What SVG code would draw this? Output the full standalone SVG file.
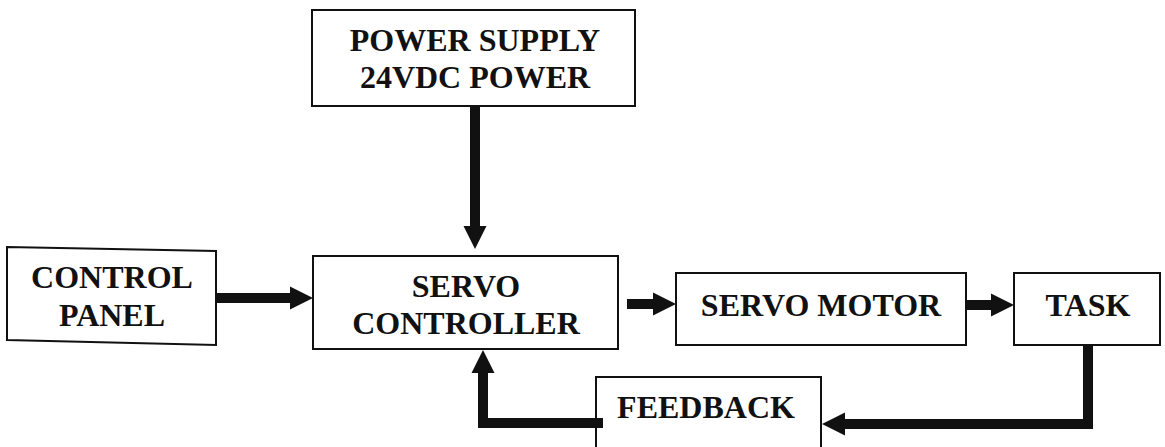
<svg xmlns="http://www.w3.org/2000/svg" width="1165" height="447" viewBox="0 0 1165 447">
<defs>
<style>
.box{fill:#fff;stroke:#111;stroke-width:2}
.lbl{font-family:"Liberation Serif","Times New Roman",serif;font-weight:bold;font-size:32px;fill:#111;text-anchor:middle}
.con{fill:none;stroke:#111;stroke-width:10;stroke-linejoin:miter}
</style>
<marker id="ah" markerUnits="userSpaceOnUse" markerWidth="24" markerHeight="24" refX="0" refY="11.5" orient="auto" overflow="visible">
<path d="M0,0 L23,11.5 L0,23 Z" fill="#111"/>
</marker>
</defs>
<rect width="1165" height="447" fill="#fff"/>
<g id="power-supply">
<rect class="box" x="312" y="10" width="323" height="96"/>
<text class="lbl" x="475" y="51">POWER SUPPLY</text>
<text class="lbl" x="475" y="88">24VDC POWER</text>
</g>
<g id="control-panel">
<polygon class="box" points="7,247 216,251 216,345 7,340"/>
<text class="lbl" x="112" y="288">CONTROL</text>
<text class="lbl" x="112" y="326">PANEL</text>
</g>
<g id="servo-controller">
<rect class="box" x="313" y="256" width="305" height="93"/>
<text class="lbl" x="466" y="297">SERVO</text>
<text class="lbl" x="466" y="334">CONTROLLER</text>
</g>
<g id="servo-motor">
<rect class="box" x="676" y="273" width="290" height="72"/>
<text class="lbl" x="821" y="316">SERVO MOTOR</text>
</g>
<g id="task">
<rect class="box" x="1014" y="273" width="146" height="72"/>
<text class="lbl" x="1088" y="316">TASK</text>
</g>
<g id="feedback">
<rect class="box" x="596" y="377" width="225" height="80"/>
<text class="lbl" x="706" y="418">FEEDBACK</text>
</g>
<g id="connectors">
<path class="con" d="M475,106 V226" marker-end="url(#ah)"/>
<path class="con" d="M216,298 H290" marker-end="url(#ah)"/>
<path class="con" d="M627,304 H653" marker-end="url(#ah)"/>
<path class="con" d="M966,305 H991" marker-end="url(#ah)"/>
<path class="con" d="M1088,345 V424 H845" marker-end="url(#ah)"/>
<path class="con" d="M603,423 H483 V373" marker-end="url(#ah)"/>
</g>
</svg>
